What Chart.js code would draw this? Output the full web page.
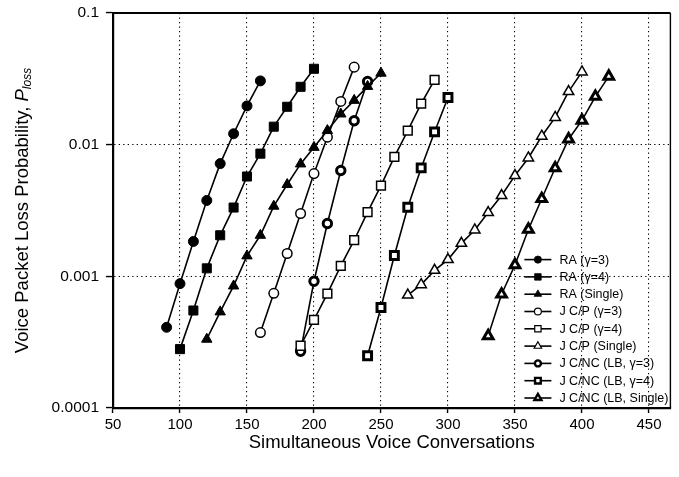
<!DOCTYPE html>
<html>
<head>
<meta charset="utf-8">
<title>Voice Packet Loss Probability</title>
<script src="https://cdn.jsdelivr.net/npm/chart.js@4.4.1/dist/chart.umd.min.js"></script>
<style>
    html, body { margin: 0; padding: 0; background: #fff; }
    #wrap { width: 679px; height: 477px; }
</style>
</head>
<body>
<div id="wrap"><canvas id="ploss_chart" width="679" height="477"></canvas></div>
<script>
// x values (simultaneous conversations) per curve
const raG3X = [90, 100, 110, 120, 130, 140, 150, 160];
const raG4X = [100, 110, 120, 130, 140, 150, 160, 170, 180, 190, 200];
const raSingleX = [120, 130, 140, 150, 160, 170, 180, 190, 200, 210, 220, 230, 240, 250];
const jcpG3X = [160, 170, 180, 190, 200, 210, 220, 230];
const jcpG4X = [190, 200, 210, 220, 230, 240, 250, 260, 270, 280, 290];
const jcpSingleX = [270, 280, 290, 300, 310, 320, 330, 340, 350, 360, 370, 380, 390, 400];
const lbG3X = [190, 200, 210, 220, 230, 240];
const lbG4X = [240, 250, 260, 270, 280, 290, 300];
const lbSingleX = [330, 340, 350, 360, 370, 380, 390, 400, 410, 420];

// packet loss probability per curve
const raG3Y = [0.00041, 0.00088, 0.00184, 0.00377, 0.00718, 0.0121, 0.0197, 0.0305];
const raG4Y = [0.00028, 0.00055, 0.00115, 0.00205, 0.00333, 0.00573, 0.00855, 0.0137, 0.0194, 0.0275, 0.0377];
const raSingleY = [0.000333, 0.000537, 0.000845, 0.00143, 0.00205, 0.00341, 0.00498, 0.00714, 0.00954, 0.0128, 0.0171, 0.0217, 0.0277, 0.0349];
const jcpG3Y = [0.000374, 0.000743, 0.00149, 0.0030, 0.00603, 0.0114, 0.0213, 0.0388];
const jcpG4Y = [0.000297, 0.000467, 0.00074, 0.0012, 0.00188, 0.00307, 0.00489, 0.00807, 0.0128, 0.0205, 0.0311];
const jcpSingleY = [0.000721, 0.000865, 0.00111, 0.00134, 0.00178, 0.00225, 0.00305, 0.00411, 0.00582, 0.00793, 0.0116, 0.0161, 0.0253, 0.0357];
const lbG3Y = [0.00027, 0.000917, 0.00252, 0.00636, 0.0152, 0.0302];
const lbG4Y = [0.000249, 0.00058, 0.00144, 0.00335, 0.00666, 0.0125, 0.0228];
const lbSingleY = [0.000353, 0.000731, 0.00122, 0.00227, 0.00388, 0.00665, 0.0110, 0.0153, 0.0232, 0.0330];

const seriesLabels = [
    'RA (γ=3)', 'RA (γ=4)', 'RA (Single)',
    'J C/P (γ=3)', 'J C/P (γ=4)', 'J C/P (Single)',
    'J C/NC (LB, γ=3)', 'J C/NC (LB, γ=4)', 'J C/NC (LB, Single)'
];

const xTicks = [50, 100, 150, 200, 250, 300, 350, 400, 450];
const yTicks = [0.0001, 0.001, 0.01, 0.1];
const yTickLabels = ['0.0001', '0.001', '0.01', '0.1'];

const FONT = 'Arial, "Liberation Sans", Helvetica, sans-serif';

function toPoints(xs, ys) {
    return xs.map((x, i) => ({ x: x, y: ys[i] }));
}

// marker looks: filled (RA), open (J C/P), ringed (J C/NC)
function filled(shape, r) {
    return { pointStyle: shape, pointRadius: r, pointBackgroundColor: '#000', pointBorderColor: '#000', pointBorderWidth: 1 };
}
function open(shape, r) {
    return { pointStyle: shape, pointRadius: r, pointBackgroundColor: '#fff', pointBorderColor: '#000', pointBorderWidth: 1.5 };
}
function ringed(shape, r) {
    return { pointStyle: shape, pointRadius: r, pointBackgroundColor: '#fff', pointBorderColor: '#000', pointBorderWidth: 3 };
}

function makeDataset(label, xs, ys, marker) {
    return Object.assign({
        label: label,
        data: toPoints(xs, ys),
        borderColor: '#000',
        borderWidth: 1.6,
        showLine: true,
        fill: false,
        tension: 0
    }, marker);
}

const datasets = [
    makeDataset(seriesLabels[0], raG3X, raG3Y, filled('circle', 5)),
    makeDataset(seriesLabels[1], raG4X, raG4Y, filled('rect', 6.4)),
    makeDataset(seriesLabels[2], raSingleX, raSingleY, filled('triangle', 6)),
    makeDataset(seriesLabels[3], jcpG3X, jcpG3Y, open('circle', 4.8)),
    makeDataset(seriesLabels[4], jcpG4X, jcpG4Y, open('rect', 6.2)),
    makeDataset(seriesLabels[5], jcpSingleX, jcpSingleY, open('triangle', 6)),
    makeDataset(seriesLabels[6], lbG3X, lbG3Y, ringed('circle', 4.2)),
    makeDataset(seriesLabels[7], lbG4X, lbG4Y, ringed('rect', 5.6)),
    makeDataset(seriesLabels[8], lbSingleX, lbSingleY, ringed('triangle', 5.6))
];

// top and right frame lines plus axis titles
const framePlugin = {
    id: 'frame',
    afterDraw(chart) {
        const ctx = chart.ctx;
        const a = chart.chartArea;
        ctx.save();
        ctx.strokeStyle = '#000';
        ctx.lineWidth = 2.2;
        ctx.beginPath();
        ctx.moveTo(a.left, a.top);
        ctx.lineTo(a.right, a.top);
        ctx.stroke();
        ctx.lineWidth = 1.4;
        ctx.beginPath();
        ctx.moveTo(a.right, a.top);
        ctx.lineTo(a.right, a.bottom);
        ctx.stroke();

        // x title
        ctx.fillStyle = '#000';
        ctx.font = '18.5px ' + FONT;
        ctx.textAlign = 'center';
        ctx.textBaseline = 'middle';
        ctx.fillText('Simultaneous Voice Conversations', (a.left + a.right) / 2, 443);

        // y title with italic P and subscript "loss"
        ctx.translate(23, (a.top + a.bottom) / 2);
        ctx.rotate(-Math.PI / 2);
        const main = 'Voice Packet Loss Probability, ';
        ctx.font = '18.5px ' + FONT;
        const w1 = ctx.measureText(main).width;
        ctx.font = 'italic 18.5px ' + FONT;
        const w2 = ctx.measureText('P').width;
        ctx.font = 'italic 12px ' + FONT;
        const w3 = ctx.measureText('loss').width;
        let x = -(w1 + w2 + w3) / 2;
        ctx.textAlign = 'left';
        ctx.font = '18.5px ' + FONT;
        ctx.fillText(main, x, 0);
        x += w1;
        ctx.font = 'italic 18.5px ' + FONT;
        ctx.fillText('P', x, 0);
        x += w2;
        ctx.font = 'italic 12px ' + FONT;
        ctx.fillText('loss', x, 5);
        ctx.restore();
    }
};

// legend drawn inside the lower right of the plot
const insideLegend = {
    id: 'insideLegend',
    afterDraw(chart) {
        const ctx = chart.ctx;
        const a = chart.chartArea;
        const n = chart.data.datasets.length;
        const lineStart = a.right - 146;
        const lineEnd = a.right - 119;
        const textX = a.right - 111;
        ctx.save();
        chart.data.datasets.forEach((ds, i) => {
            const y = a.bottom - 10 - (n - 1 - i) * 17.3;
            ctx.strokeStyle = '#000';
            ctx.lineWidth = 1.6;
            ctx.beginPath();
            ctx.moveTo(lineStart, y);
            ctx.lineTo(lineEnd, y);
            ctx.stroke();
            const opts = {
                pointStyle: ds.pointStyle,
                radius: ds.pointRadius * 0.72,
                borderWidth: ds.pointBorderWidth * 0.8,
                rotation: 0
            };
            ctx.fillStyle = ds.pointBackgroundColor;
            ctx.strokeStyle = ds.pointBorderColor;
            ctx.lineWidth = opts.borderWidth;
            Chart.helpers.drawPoint(ctx, opts, (lineStart + lineEnd) / 2, y);
            ctx.fillStyle = '#000';
            ctx.font = '12.5px ' + FONT;
            ctx.textAlign = 'left';
            ctx.textBaseline = 'middle';
            ctx.fillText(ds.label, textX, y + 0.5);
        });
        ctx.restore();
    }
};

function renderChart() {
    const ctx = document.getElementById('ploss_chart').getContext('2d');

    window.plossChart = new Chart(ctx, {
        type: 'scatter',
        data: { datasets: datasets },
        options: {
            responsive: false,
            animation: false,
            layout: { padding: { left: 0, top: 13, right: 8, bottom: 0 } },
            plugins: {
                legend: { display: false },
                tooltip: { enabled: false },
                title: { display: false }
            },
            scales: {
                x: {
                    type: 'linear',
                    min: 50,
                    max: 466,
                    afterBuildTicks: scale => {
                        scale.ticks = xTicks.map(v => ({ value: v }));
                    },
                    afterFit: scale => {
                        scale.height = 69;
                        scale.paddingLeft = 0;
                        scale.paddingRight = 0;
                    },
                    grid: {
                        color: '#000',
                        lineWidth: 1.1,
                        drawTicks: true,
                        tickLength: 5,
                        tickColor: '#000',
                        tickWidth: 1.4
                    },
                    border: { display: true, color: '#000', width: 2.2, dash: [1.3, 3.2] },
                    ticks: {
                        color: '#000',
                        padding: 3,
                        font: { family: FONT, size: 15 },
                        maxRotation: 0,
                        autoSkip: false
                    }
                },
                y: {
                    type: 'logarithmic',
                    min: 0.0001,
                    max: 0.1,
                    afterBuildTicks: scale => {
                        scale.ticks = yTicks.map(v => ({ value: v }));
                    },
                    afterFit: scale => {
                        scale.width = 113;
                        scale.paddingTop = 0;
                        scale.paddingBottom = 0;
                    },
                    grid: {
                        color: '#000',
                        lineWidth: 1.1,
                        drawTicks: true,
                        tickLength: 7,
                        tickColor: '#000',
                        tickWidth: 1.4
                    },
                    border: { display: true, color: '#000', width: 2.2, dash: [1.3, 3.2] },
                    ticks: {
                        color: '#000',
                        padding: 7,
                        font: { family: FONT, size: 15.5 },
                        autoSkip: false,
                        callback: function(value) {
                            const i = yTicks.indexOf(value);
                            return i >= 0 ? yTickLabels[i] : '';
                        }
                    }
                }
            }
        },
        plugins: [framePlugin, insideLegend]
    });
}

renderChart();
</script>
</body>
</html>
